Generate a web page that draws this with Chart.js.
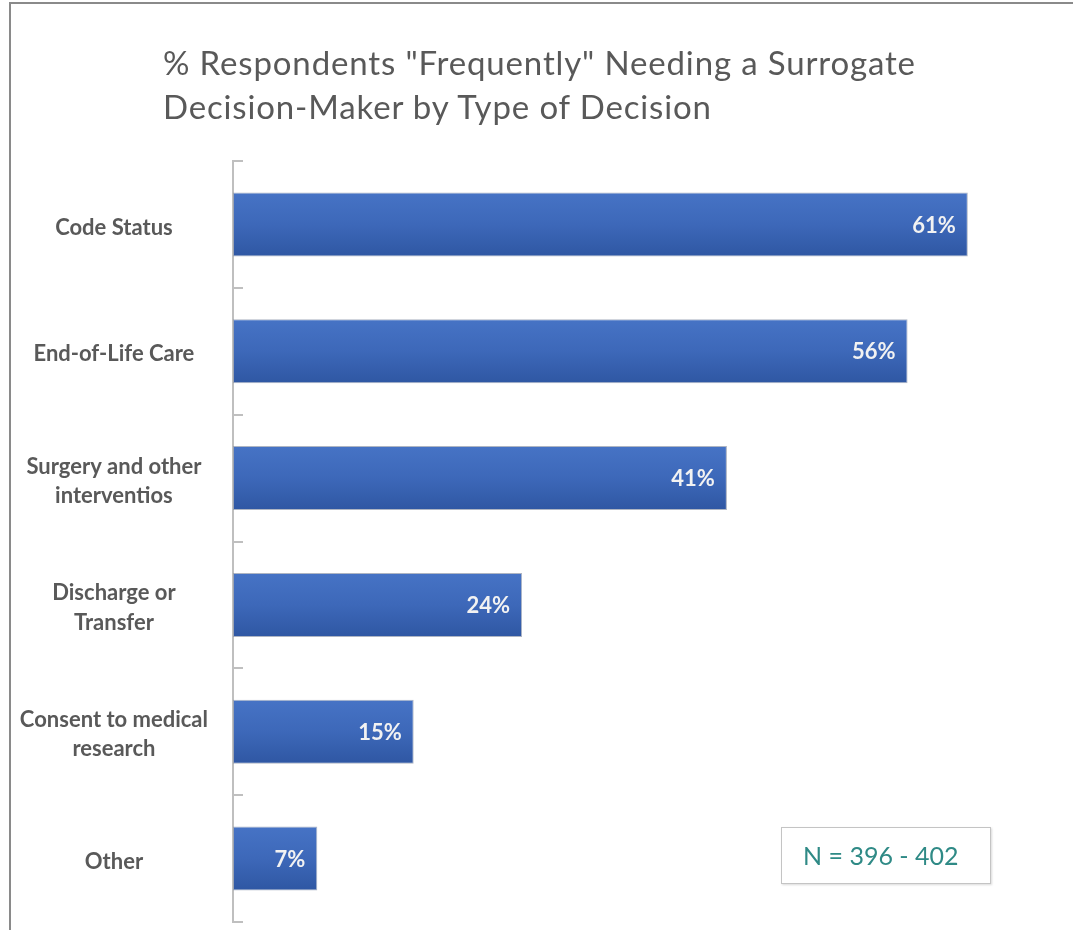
<!DOCTYPE html>
<html>
<head>
<meta charset="utf-8">
<title>Surrogate decision-maker by type of decision</title>
<script src="https://cdn.jsdelivr.net/npm/chart.js@4"></script>
<style>
  html, body { margin: 0; padding: 0; background: #fff; overflow: hidden; }
  #wrap { position: relative; width: 1073px; height: 930px; overflow: hidden; }
  #frame {
    position: absolute; left: 9px; top: 2px; right: -10px; bottom: -10px;
    border-top: 2px solid #8a8a8a; border-left: 2px solid #8a8a8a;
  }
  #title {
    position: absolute; left: 163px; top: 40px;
    font-family: Lato, "Open Sans", sans-serif; font-size: 33px; line-height: 44px;
    letter-spacing: 0.85px; color: #595959; white-space: nowrap;
  }
  #nbox {
    position: absolute; left: 781px; top: 827px; width: 210px; height: 57px;
    border: 1px solid #c4c4c4; box-shadow: 1px 1px 2px rgba(0,0,0,0.15);
    box-sizing: border-box; background: #fff;
    font-family: Lato, "Open Sans", sans-serif; font-size: 25px; line-height: 55px;
    color: #2f8a86; padding-left: 21px; white-space: nowrap;
  }
  canvas { position: absolute; left: 0; top: 0; }
</style>
</head>
<body>
<div id="wrap">
  <div id="frame"></div>
  <canvas id="decisionChart" width="1073" height="930"></canvas>
  <div id="title">% Respondents "Frequently" Needing a Surrogate<br>Decision-Maker by Type of Decision</div>
  <div id="nbox">N = 396 - 402</div>
</div>
<script>
// decision types and share answering "frequently" (%)
const decisionTypes = [
  'Code Status',
  'End-of-Life Care',
  ['Surgery and other', 'interventios'],
  ['Discharge or', 'Transfer'],
  ['Consent to medical', 'research'],
  'Other'
];
const frequentPct = [61, 56, 41, 24, 15, 7];
const axisMax = 65;

const FONT = 'Lato, "Open Sans", sans-serif';

// vertical gradient per bar, lighter on top
function barFill(context) {
  const chart = context.chart;
  const y = chart.scales.y;
  if (!chart.chartArea || !y || context.dataIndex === undefined) return '#3f6bbe';
  const yc = y.getPixelForValue(context.dataIndex);
  const half = (y.height / decisionTypes.length) * 0.5 / 2;
  const g = chart.ctx.createLinearGradient(0, yc - half, 0, yc + half);
  g.addColorStop(0, '#4673c5');
  g.addColorStop(0.5, '#3d68b9');
  g.addColorStop(1, '#2f57a3');
  return g;
}

const valueLabels = {
  id: 'valueLabels',
  afterDatasetsDraw(chart) {
    const ctx = chart.ctx;
    const meta = chart.getDatasetMeta(0);
    ctx.save();
    ctx.font = 'bold 22px ' + FONT;
    ctx.fillStyle = '#f2f2f2';
    ctx.textAlign = 'right';
    ctx.textBaseline = 'middle';
    meta.data.forEach((bar, i) => {
      ctx.fillText(frequentPct[i] + '%', bar.x - 12, bar.y + 1);
    });
    ctx.restore();
  }
};

new Chart(document.getElementById('decisionChart'), {
  type: 'bar',
  data: {
    labels: decisionTypes,
    datasets: [{
      data: frequentPct,
      backgroundColor: barFill,
      borderColor: 'rgba(140,150,170,0.7)',
      borderWidth: 1,
      borderSkipped: false,
      categoryPercentage: 1,
      barPercentage: 0.505
    }]
  },
  options: {
    indexAxis: 'y',
    responsive: false,
    animation: false,
    layout: { padding: { top: 161, right: 57, bottom: 8, left: 0 } },
    plugins: {
      legend: { display: false },
      tooltip: { enabled: false },
      title: { display: false }
    },
    scales: {
      x: { display: false, min: 0, max: axisMax },
      y: {
        afterFit(scale) {
          scale.width = 233;
          scale.paddingTop = 0;
          scale.paddingBottom = 0;
        },
        border: { display: true, color: '#bfbfbf', width: 2 },
        grid: {
          drawOnChartArea: false,
          drawTicks: true,
          tickLength: -10,
          color: '#bfbfbf',
          lineWidth: 2
        },
        ticks: {
          crossAlign: 'center',
          padding: 35,
          labelOffset: 3,
          color: '#595959',
          font: { family: FONT, size: 22, weight: 'bold', lineHeight: 1.32 }
        }
      }
    }
  },
  plugins: [valueLabels]
});
</script>
</body>
</html>
